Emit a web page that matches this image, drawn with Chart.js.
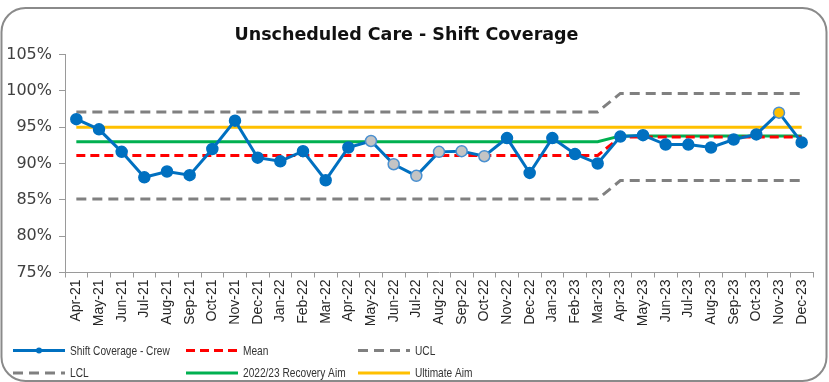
<!DOCTYPE html>
<html>
<head>
<meta charset="utf-8">
<title>Unscheduled Care - Shift Coverage</title>
<script src="https://cdn.jsdelivr.net/npm/chart.js@4.4.1/dist/chart.umd.min.js"></script>
<style>
  html, body { margin: 0; padding: 0; background: #ffffff; }
  #wrap { width: 829px; height: 382px; }
</style>
</head>
<body>
<div id="wrap"><canvas id="chart" width="829" height="382"></canvas></div>
<script>
// Months reported
const months = [
  'Apr-21','May-21','Jun-21','Jul-21','Aug-21','Sep-21','Oct-21','Nov-21','Dec-21',
  'Jan-22','Feb-22','Mar-22','Apr-22','May-22','Jun-22','Jul-22','Aug-22','Sep-22','Oct-22','Nov-22','Dec-22',
  'Jan-23','Feb-23','Mar-23','Apr-23','May-23','Jun-23','Jul-23','Aug-23','Sep-23','Oct-23','Nov-23','Dec-23'
];

// Shift coverage achieved by crews (%)
const coverage = [
  96.1, 94.7, 91.6, 88.1, 88.9, 88.4, 92.0, 95.9, 90.8,
  90.3, 91.7, 87.7, 92.2, 93.1, 89.9, 88.3, 91.6, 91.7, 91.0, 93.5, 88.7,
  93.5, 91.3, 90.0, 93.7, 93.9, 92.6, 92.6, 92.2, 93.3, 94.0, 97.0, 92.9
];

// Control limits: baseline period (Apr-21 to Mar-23) then recalculated (Apr-23 on)
const meanLine = [...Array(24).fill(91.1), ...Array(9).fill(93.65)];
const uclLine  = [...Array(24).fill(97.1), ...Array(9).fill(99.65)];
const lclLine  = [...Array(24).fill(85.1), ...Array(9).fill(87.65)];

// Targets
const recoveryAim = [...Array(24).fill(93.0), ...Array(9).fill(93.8)];
const ultimateAim = Array(33).fill(95.0);

// Y axis range (%)
const yMin = 75, yMax = 105, yStep = 5;

// Highlighted points: shift runs in grey, the peak month in gold
const runMonths = ['May-22','Jun-22','Jul-22','Aug-22','Sep-22','Oct-22'];
const peakMonth = 'Nov-23';

const BLUE = '#0070C0';
const pointFill = months.map(m => runMonths.includes(m) ? '#c4c4c4' : (m === peakMonth ? '#FFC000' : BLUE));
const pointEdge = months.map(m => (runMonths.includes(m) || m === peakMonth) ? '#4a90d0' : BLUE);

// Rounded outer frame
const framePlugin = {
  id: 'frame',
  beforeDraw(chart) {
    const ctx = chart.ctx;
    ctx.save();
    ctx.fillStyle = '#ffffff';
    ctx.fillRect(0, 0, chart.width, chart.height);
    ctx.beginPath();
    ctx.roundRect(1.5, 8, 825, 373, 24);
    ctx.strokeStyle = '#8a8a8a';
    ctx.lineWidth = 2;
    ctx.stroke();
    ctx.restore();
  }
};

// Three-column legend under the axis (condensed label text)
const gridLegend = {
  id: 'gridLegend',
  afterDraw(chart) {
    const ctx = chart.ctx;
    const cols = [13, 186, 358];
    const rows = [350.5, 373];
    const len = 52;
    ctx.save();
    chart.data.datasets.forEach((ds, i) => {
      const x = cols[i % 3];
      const y = rows[Math.floor(i / 3)];
      ctx.beginPath();
      ctx.setLineDash(ds.borderDash || []);
      ctx.strokeStyle = ds.borderColor;
      ctx.lineWidth = ds.borderWidth;
      ctx.moveTo(x, y);
      ctx.lineTo(x + len, y);
      ctx.stroke();
      ctx.setLineDash([]);
      if (i === 0) {
        ctx.beginPath();
        ctx.arc(x + len / 2, y, 3, 0, Math.PI * 2);
        ctx.fillStyle = BLUE;
        ctx.fill();
      }
      ctx.save();
      ctx.translate(x + len + 5, y + 0.5);
      ctx.scale(0.78, 1);
      ctx.fillStyle = '#333333';
      ctx.font = '13px "Liberation Sans", Arial, sans-serif';
      ctx.textBaseline = 'middle';
      ctx.textAlign = 'left';
      ctx.fillText(ds.label, 0, 0);
      ctx.restore();
    });
    ctx.restore();
  }
};

const flat = { pointRadius: 0, pointHoverRadius: 0, fill: false, tension: 0, borderWidth: 3 };

new Chart(document.getElementById('chart'), {
  type: 'line',
  data: {
    labels: months,
    datasets: [
      {
        label: 'Shift Coverage - Crew', data: coverage,
        borderColor: BLUE, borderWidth: 3, tension: 0, fill: false,
        pointRadius: 5.5, pointHoverRadius: 5.5, pointBorderWidth: 1.5,
        pointBackgroundColor: pointFill, pointBorderColor: pointEdge
      },
      { label: 'Mean', data: meanLine, borderColor: '#FF0000', borderDash: [9, 5], ...flat },
      { label: 'UCL', data: uclLine, borderColor: '#808080', borderDash: [10, 6], ...flat },
      { label: 'LCL', data: lclLine, borderColor: '#808080', borderDash: [10, 6], ...flat },
      { label: '2022/23 Recovery Aim', data: recoveryAim, borderColor: '#00B050', ...flat },
      { label: 'Ultimate Aim', data: ultimateAim, borderColor: '#FFC000', ...flat }
    ]
  },
  options: {
    responsive: false,
    animation: false,
    events: [],
    layout: { padding: { left: 0, right: 16, top: 0, bottom: 0 } },
    plugins: {
      legend: { display: false },
      tooltip: { enabled: false },
      title: {
        display: true,
        text: 'Unscheduled Care - Shift Coverage',
        color: '#111111',
        font: { family: '"DejaVu Sans", sans-serif', size: 17.5, weight: 'bold', lineHeight: 1.2 },
        padding: { top: 25, bottom: 8.5 }
      }
    },
    scales: {
      x: {
        type: 'category',
        offset: true,
        grid: { display: true, drawOnChartArea: false, offset: true, tickLength: 5, color: '#9a9a9a' },
        border: { display: true, color: '#9a9a9a', width: 1 },
        ticks: {
          autoSkip: false, minRotation: 90, maxRotation: 90, padding: 2,
          color: '#262626',
          font: { family: '"Liberation Sans", Arial, sans-serif', size: 14 }
        },
        afterFit(scale) { scale.height = 109.5; }
      },
      y: {
        min: yMin, max: yMax,
        grid: { display: true, drawOnChartArea: false, tickLength: 6, color: '#9a9a9a' },
        border: { display: true, color: '#9a9a9a', width: 1 },
        ticks: {
          stepSize: yStep, padding: 7,
          color: '#404040',
          font: { family: '"DejaVu Sans", sans-serif', size: 16 },
          callback: v => v + '%'
        },
        afterFit(scale) { scale.width = 65; }
      }
    }
  },
  plugins: [framePlugin, gridLegend]
});
</script>
</body>
</html>
